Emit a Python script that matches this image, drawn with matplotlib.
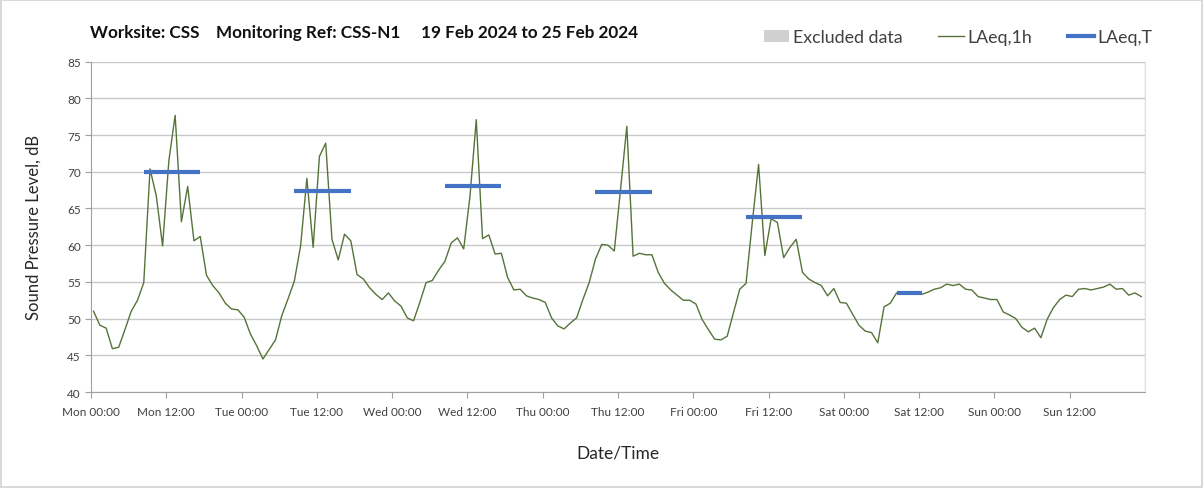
import numpy as np
import matplotlib
matplotlib.use('Agg')
import matplotlib.pyplot as plt
from matplotlib.patches import Patch
from matplotlib.lines import Line2D

plt.rcParams['font.family'] = ['Lato', 'DejaVu Sans']

# hourly LAeq,1h values, Mon 00:00 .. Sun 23:00
laeq_1h = [
	51.0, 49.1, 48.7, 45.9, 46.1, 48.5, 51.0, 52.5, 54.9, 70.4, 66.7, 59.9,
	71.5, 77.7, 63.2, 68.0, 60.6, 61.2, 55.9, 54.5, 53.5, 52.1, 51.3, 51.2,
	50.2, 47.9, 46.3, 44.5, 45.8, 47.1, 50.4, 52.7, 55.1, 59.9, 69.1, 59.7,
	72.1, 73.9, 60.8, 58.0, 61.5, 60.6, 56.0, 55.4, 54.2, 53.3, 52.6, 53.5,
	52.4, 51.7, 50.1, 49.7, 52.2, 54.9, 55.2, 56.6, 57.8, 60.3, 61.0, 59.5,
	66.7, 77.1, 60.9, 61.4, 58.8, 58.9, 55.6, 53.9, 54.0, 53.1, 52.8, 52.6,
	52.2, 50.1, 49.0, 48.6, 49.4, 50.1, 52.6, 54.9, 58.1, 60.1, 60.0, 59.2,
	67.6, 76.2, 58.5, 58.9, 58.7, 58.7, 56.3, 54.8, 53.9, 53.2, 52.5, 52.5,
	52.0, 49.9, 48.5, 47.2, 47.1, 47.6, 50.8, 54.0, 54.8, 63.1, 71.0, 58.6,
	63.6, 63.1, 58.3, 59.7, 60.8, 56.3, 55.4, 54.9, 54.5, 53.1, 54.1, 52.2,
	52.1, 50.6, 49.1, 48.3, 48.1, 46.7, 51.6, 52.1, 53.5, 53.5, 53.5, 53.6,
	53.3, 53.6, 54.0, 54.2, 54.7, 54.5, 54.7, 54.0, 53.9, 53.0, 52.8, 52.6,
	52.6, 50.9, 50.5, 50.0, 48.8, 48.2, 48.7, 47.4, 49.9, 51.5, 52.6, 53.2,
	53.0, 54.0, 54.1, 53.9, 54.1, 54.3, 54.7, 54.0, 54.1, 53.2, 53.5, 53.0,
]

# LAeq,T per day: start hour, end hour, level
laeq_t_start = [8, 32, 56, 80, 104, 128]
laeq_t_end = [17, 41, 65, 89, 113, 132]
laeq_t_level = [70.0, 67.4, 68.1, 67.3, 63.8, 53.5]

day_names = ['Mon', 'Tue', 'Wed', 'Thu', 'Fri', 'Sat', 'Sun']
tick_labels = [d + ' ' + t for d in day_names for t in ['00:00', '12:00']]

title = 'Worksite: CSS    Monitoring Ref: CSS-N1     19 Feb 2024 to 25 Feb 2024'

GREEN = '#56733a'
BLUE = '#4472c4'
GRID = '#c8c8c8'

hours = np.arange(len(laeq_1h)) + 0.4

fig = plt.figure(figsize=(12.03, 4.89), dpi=100)
fig.patch.set_edgecolor('#d9d9d9')
fig.patch.set_linewidth(1.5)
ax = fig.add_axes([0.0757, 0.1963, 0.8761, 0.6755])

ax.plot(hours, laeq_1h, color=GREEN, lw=1.0, zorder=3)
for s, e, v in zip(laeq_t_start, laeq_t_end, laeq_t_level):
	ax.plot([s + 0.4, e + 0.4], [v, v], color=BLUE, lw=3, solid_capstyle='butt', zorder=4)

ax.set_xlim(0, 168)
ax.set_ylim(40, 85)
ax.set_yticks(np.arange(40, 86, 5))
ax.set_xticks(np.arange(0, 168, 12))
ax.set_xticklabels(tick_labels)
ax.set_xticks(np.arange(0, 169, 24), minor=True)

ax.grid(axis='y', color=GRID, lw=1)
ax.grid(axis='x', which='minor', color='#dedede', lw=1)
ax.tick_params(axis='both', which='major', labelsize=8.5, colors='#404040', length=4, color='#a0a0a0')
ax.tick_params(axis='x', which='major', pad=6)
ax.tick_params(axis='x', which='minor', length=0)
for side in ['left', 'bottom']:
	ax.spines[side].set_color('#a0a0a0')
ax.spines['top'].set_visible(False)
ax.spines['right'].set_color('#dedede')

ax.set_ylabel('Sound Pressure Level, dB', fontsize=12, color='#262626', labelpad=18)
ax.set_xlabel('Date/Time', fontsize=12.5, color='#262626', labelpad=20)

fig.text(0.075, 0.932, title, fontsize=12.3, fontweight='bold', color='#111111', va='center')

handles = [Patch(facecolor='#d0d0d0', edgecolor='none'),
		Line2D([], [], color=GREEN, lw=1.0),
		Line2D([], [], color=BLUE, lw=3)]
fig.legend(handles, ['Excluded data', 'LAeq,1h', 'LAeq,T'], loc='center right',
		bbox_to_anchor=(0.971, 0.922), ncol=3, frameon=False, fontsize=12.8,
		handlelength=1.45, handletextpad=0.2, columnspacing=2.0, labelcolor='#404040')

fig.savefig('out.png', dpi=100)
